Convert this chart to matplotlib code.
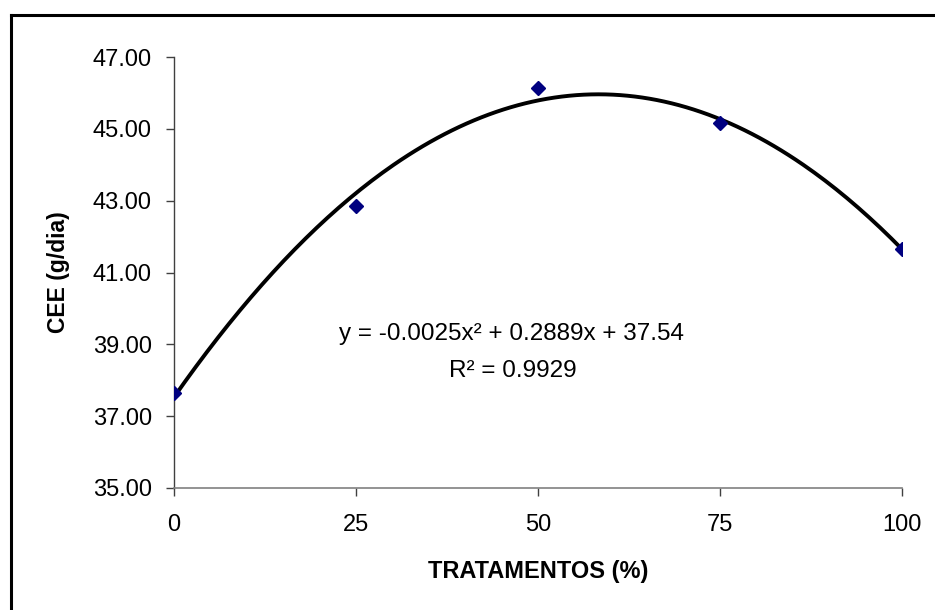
import numpy as np
import matplotlib.pyplot as plt
from matplotlib.lines import Line2D

# valores
tratamentos = [0, 25, 50, 75, 100]
cee = [37.65, 42.85, 46.15, 45.15, 41.65]
y_ticks = [35, 37, 39, 41, 43, 45, 47]
x_ticks = [0, 25, 50, 75, 100]
equacao = "y = -0.0025x² + 0.2889x + 37.54"
r2_texto = "R² = 0.9929"

plt.rcParams['font.family'] = ['Liberation Sans', 'DejaVu Sans']

fig = plt.figure(figsize=(9.35, 6.1), dpi=100)
ax = fig.add_axes([174 / 935, 1 - 488 / 610, (902 - 174) / 935, (488 - 57) / 610])

# linha de tendência polinomial (2a ordem) ajustada aos pontos
coef = np.polyfit(tratamentos, cee, 2)
xs = np.linspace(0, 100, 200)
ax.plot(xs, np.polyval(coef, xs), color='black', linewidth=2.8, zorder=2)

ax.plot(tratamentos, cee, linestyle='none', marker='D', markersize=6.8,
        color='#000080', zorder=3)

ax.set_xlim(0, 100)
ax.set_ylim(35, 47)
ax.set_xticks(x_ticks)
ax.set_xticklabels([str(t) for t in x_ticks])
ax.set_yticks(y_ticks)
ax.set_yticklabels([f"{t:.2f}" for t in y_ticks])

for side in ['top', 'right']:
    ax.spines[side].set_visible(False)
ax.spines['left'].set_color('#404040')
ax.spines['bottom'].set_color('#808080')
ax.spines['left'].set_linewidth(1.0)
ax.spines['bottom'].set_linewidth(1.2)

ax.tick_params(axis='y', length=6, width=1, color='#404040', pad=10, labelsize=17)
ax.tick_params(axis='x', length=6, width=1, color='#404040', pad=13, labelsize=17)

ax.set_xlabel('TRATAMENTOS (%)', fontsize=17, fontweight='bold', labelpad=17)
ax.set_ylabel('CEE (g/dia)', fontsize=16.5, fontweight='bold', labelpad=16)

ax.text(46.3, 39.3, equacao, ha='center', va='center', fontsize=17.5)
ax.text(46.5, 38.25, r2_texto, ha='center', va='center', fontsize=17.5)

# moldura externa (só esquerda e topo visíveis)
fig.add_artist(Line2D([11 / 935, 11 / 935], [0, 1 - 15 / 610], color='black', linewidth=2.2))
fig.add_artist(Line2D([11 / 935, 1], [1 - 15 / 610, 1 - 15 / 610], color='black', linewidth=2.2))

fig.savefig('out.png', dpi=100)
